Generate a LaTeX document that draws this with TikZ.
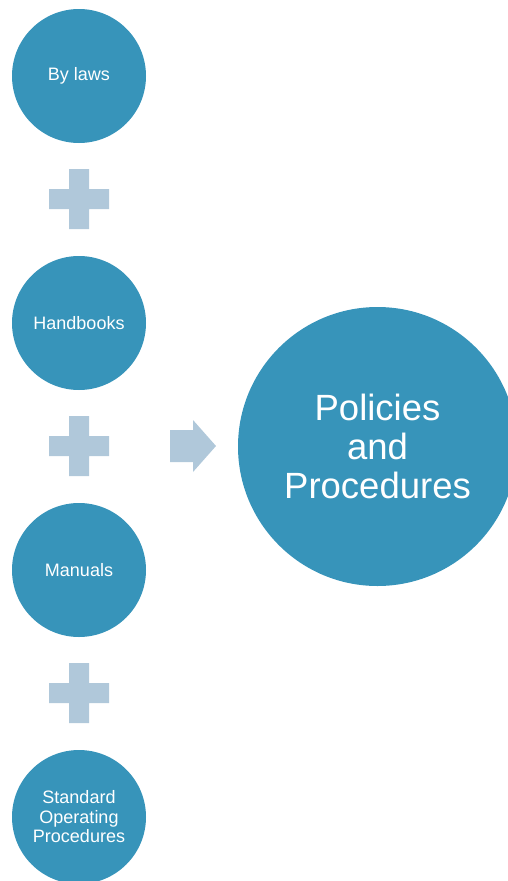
\documentclass[tikz,border=0pt]{standalone}
\usepackage{fontspec}
\setmainfont{Liberation Sans}
\definecolor{disc}{RGB}{55,148,186}
\definecolor{plus}{RGB}{176,200,218}
\tikzset{item/.style={circle,fill=disc,minimum size=134pt,inner sep=0pt,text=white,align=center,font=\fontsize{18}{19.5}\selectfont},
  total/.style={item,minimum size=279pt,font=\fontsize{36.5}{39}\selectfont}}
\begin{document}
\begin{tikzpicture} [x=1pt,y=-1pt]
\useasboundingbox (0,0) rectangle (508,881) ;
\node [item] (bylaws) at (79,76) {By laws} ;
\node [item] (handbooks) at (79,323) {Handbooks} ;
\node [item] (manuals) at (79,570) {Manuals} ;
\node [item] (sop) at (79,817) {Standard\\Operating\\Procedures} ;
\node [total] (policies) at (377.5,446.5) {Policies\\and\\Procedures} ;
\foreach \y in {199,446,693}
  \fill[plus] (49,\y-10) rectangle (109,\y+10) (69,\y-30) rectangle (89,\y+30) ;
\fill[plus] (170,430) -- (193,430) -- (193,420) -- (216,446) -- (193,472) -- (193,462) -- (170,462) -- cycle ;
\end{tikzpicture}
\end{document}
